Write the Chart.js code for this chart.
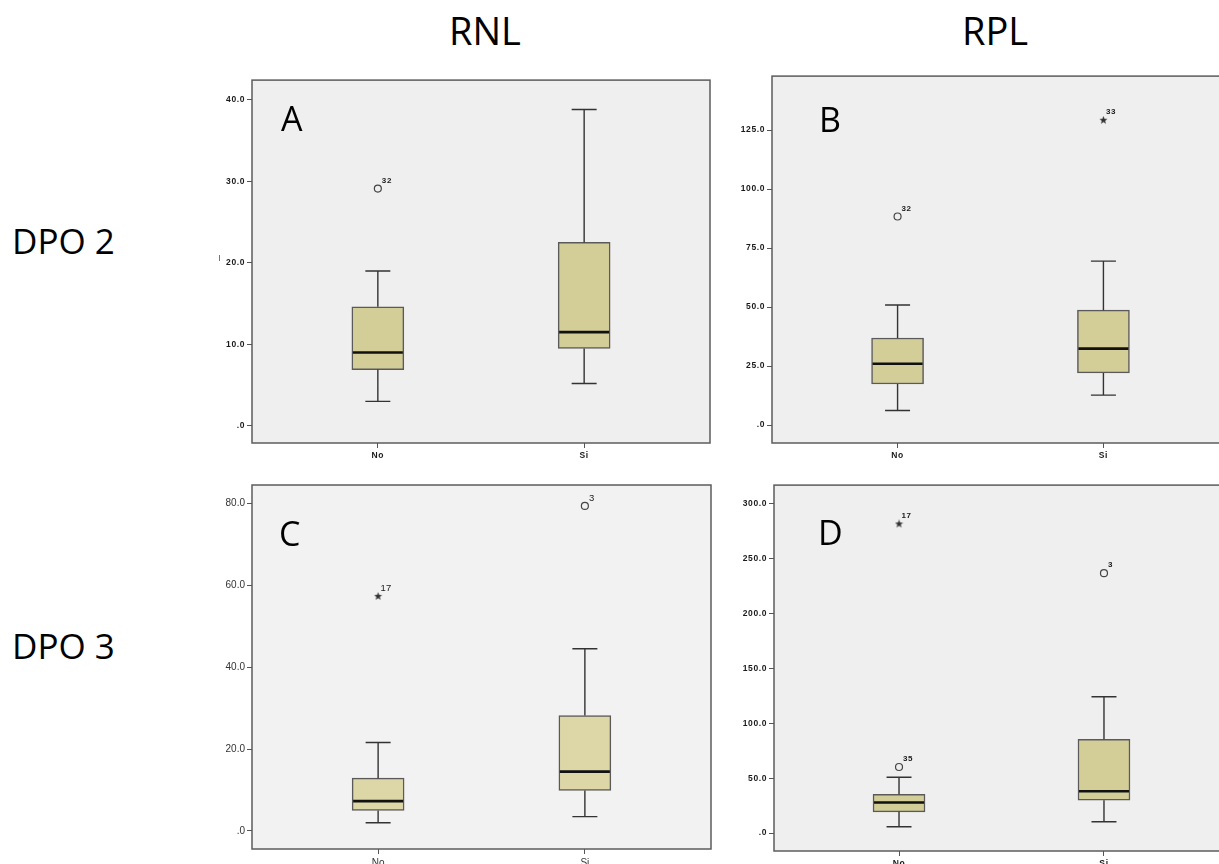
<!DOCTYPE html>
<html>
<head>
<meta charset="utf-8">
<script src="https://cdn.jsdelivr.net/npm/chart.js@4/dist/chart.umd.min.js"></script>
<style>
  html, body { margin: 0; padding: 0; background: #fff; }
  body { position: relative; width: 1219px; height: 864px; overflow: hidden; font-family: "Open Sans", sans-serif; }
  .hdr { position: absolute; line-height: 1; white-space: nowrap; color: #000; }
  .top { font-size: 38px; transform: translateX(-50%); }
  .side { font-size: 35px; }
  .letter { position: absolute; font-size: 34px; line-height: 1; color: #000; }
  canvas { position: absolute; }
  .mark { position: absolute; left: 219px; top: 255px; width: 1px; height: 6px; background: #777; }
</style>
</head>
<body>
<div class="hdr top" style="left:485px;top:11px">RNL</div>
<div class="hdr top" style="left:995px;top:11px">RPL</div>
<div class="hdr side" style="left:12px;top:223px">DPO 2</div>
<div class="hdr side" style="left:12px;top:628px">DPO 3</div>
<div class="mark"></div>

<script>
  // categories on the x axis
  const categories = ['No', 'Si'];

  // A: RNL, DPO 2
  const lowA = [3.0, 5.2];
  const q1A = [6.9, 9.5];
  const medA = [9.0, 11.5];
  const q3A = [14.6, 22.5];
  const highA = [19.0, 38.8];
  const outGroupA = ['No'];
  const outValA = [29.1];
  const outIdA = ['32'];
  const outMarkA = ['circle'];
  const yTicksA = [0, 10, 20, 30, 40];

  // B: RPL, DPO 2
  const lowB = [6.2, 12.7];
  const q1B = [17.4, 22.1];
  const medB = [26.0, 32.4];
  const q3B = [36.9, 48.7];
  const highB = [50.9, 69.5];
  const outGroupB = ['No', 'Si'];
  const outValB = [88.4, 129.2];
  const outIdB = ['32', '33'];
  const outMarkB = ['circle', 'star'];
  const yTicksB = [0, 25, 50, 75, 100, 125];

  // C: RNL, DPO 3
  const lowC = [2.0, 3.5];
  const q1C = [5.0, 9.9];
  const medC = [7.3, 14.5];
  const q3C = [12.9, 28.2];
  const highC = [21.6, 44.5];
  const outGroupC = ['No', 'Si'];
  const outValC = [57.3, 79.4];
  const outIdC = ['17', '3'];
  const outMarkC = ['star', 'circle'];
  const yTicksC = [0, 20, 40, 60, 80];

  // D: RPL, DPO 3
  const lowD = [5.8, 10.3];
  const q1D = [19.4, 30.0];
  const medD = [27.9, 38.1];
  const q3D = [35.4, 85.4];
  const highD = [50.9, 124.2];
  const outGroupD = ['No', 'No', 'Si'];
  const outValD = [60.2, 281.6, 236.8];
  const outIdD = ['35', '17', '3'];
  const outMarkD = ['circle', 'star', 'circle'];
  const yTicksD = [0, 50, 100, 150, 200, 250, 300];

  const X_MIN = 0.39, X_MAX = 2.61;
  const BOX_PX = 52, CAP_PX = 25;
  const AXIS_W = 50, AXIS_H = 22, PAD = 6;

  function fmtTick(v) {
    return v === 0 ? '.0' : v.toFixed(1);
  }

  // small filled star like the SPSS extreme marker
  function makeStar() {
    const c = document.createElement('canvas');
    c.width = 9; c.height = 9;
    const g = c.getContext('2d');
    g.fillStyle = '#333';
    g.beginPath();
    for (let k = 0; k < 10; k++) {
      const r = k % 2 === 0 ? 4.2 : 1.8;
      const a = -Math.PI / 2 + k * Math.PI / 5;
      const px = 4.5 + r * Math.cos(a), py = 4.5 + r * Math.sin(a);
      if (k === 0) g.moveTo(px, py); else g.lineTo(px, py);
    }
    g.closePath();
    g.fill();
    return c;
  }
  const starImg = makeStar();

  const framePlugin = {
    id: 'frame',
    beforeDraw(chart, args, opts) {
      const { ctx, chartArea: a } = chart;
      // spss style spaced digits
      ctx.letterSpacing = opts.spacing;
      ctx.save();
      ctx.fillStyle = opts.bg;
      ctx.fillRect(a.left, a.top, a.right - a.left, a.bottom - a.top);
      ctx.strokeStyle = '#5c5c5c';
      ctx.lineWidth = 1.5;
      ctx.strokeRect(a.left, a.top, a.right - a.left, a.bottom - a.top);
      ctx.restore();
    }
  };

  const outlierLabels = {
    id: 'outlierLabels',
    afterDatasetsDraw(chart, args, opts) {
      const ctx = chart.ctx;
      chart.data.datasets.forEach((ds, di) => {
        if (!ds.outlierIds) return;
        const meta = chart.getDatasetMeta(di);
        ctx.save();
        ctx.font = opts.font;
        ctx.fillStyle = '#1a1a1a';
        ctx.textAlign = 'left';
        ctx.textBaseline = 'middle';
        meta.data.forEach((pt, i) => {
          const dx = ds.outlierMarks[i] === 'star' ? 2.5 : 4;
          ctx.fillText(ds.outlierIds[i], pt.x + dx, pt.y - 8);
        });
        ctx.restore();
      });
    }
  };

  function buildPanel(p) {
    const frameW = p.frame.r - p.frame.l;
    const frameH = p.frame.b - p.frame.t;
    const canvas = document.createElement('canvas');
    canvas.width = frameW + AXIS_W + PAD;
    canvas.height = frameH + AXIS_H + PAD;
    canvas.style.left = (p.frame.l - AXIS_W) + 'px';
    canvas.style.top = (p.frame.t - PAD) + 'px';
    document.body.appendChild(canvas);

    const pxPerUnit = frameW / (X_MAX - X_MIN);
    const capHalf = CAP_PX / 2 / pxPerUnit;
    const medHalf = (BOX_PX / 2 - 1) / pxPerUnit;

    const boxes = [], whiskers = [], medians = [];
    categories.forEach((c, i) => {
      const x = i + 1;
      boxes.push({ x, y: [p.q1[i], p.q3[i]] });
      whiskers.push(
        { x, y: p.q3[i] }, { x, y: p.high[i] }, { x, y: null },
        { x, y: p.q1[i] }, { x, y: p.low[i] }, { x, y: null },
        { x: x - capHalf, y: p.high[i] }, { x: x + capHalf, y: p.high[i] }, { x, y: null },
        { x: x - capHalf, y: p.low[i] }, { x: x + capHalf, y: p.low[i] }, { x, y: null }
      );
      medians.push({ x: x - medHalf, y: p.med[i] }, { x: x + medHalf, y: p.med[i] }, { x, y: null });
    });
    const outliers = p.outGroup.map((g, i) => ({ x: categories.indexOf(g) + 1, y: p.outVal[i] }));

    const tickFont = p.plain
      ? { family: 'Liberation Sans', size: 10, weight: 'normal' }
      : { family: 'Liberation Sans', size: 8.5, weight: 'bold' };
    const tickColor = p.plain ? '#333' : '#1a1a1a';

    new Chart(canvas, {
      type: 'bar',
      data: {
        datasets: [
          {
            type: 'bar', data: boxes, order: 3,
            backgroundColor: p.fill, borderColor: '#5a5a5a', borderWidth: 1.5,
            borderSkipped: false, barThickness: BOX_PX
          },
          {
            type: 'line', data: whiskers, order: 2,
            borderColor: '#333', borderWidth: 1.4, pointRadius: 0, spanGaps: false, tension: 0
          },
          {
            type: 'line', data: medians, order: 1,
            borderColor: '#111', borderWidth: 2.6, pointRadius: 0, spanGaps: false, tension: 0
          },
          {
            type: 'line', data: outliers, order: 0, showLine: false,
            outlierIds: p.outId, outlierMarks: p.outMark,
            pointStyle: p.outMark.map(m => m === 'star' ? starImg : 'circle'),
            pointRadius: 3.5, pointBorderWidth: 1.2,
            pointBorderColor: '#444', pointBackgroundColor: 'rgba(0,0,0,0)'
          }
        ]
      },
      options: {
        responsive: false,
        devicePixelRatio: 1,
        animation: false,
        events: [],
        layout: { padding: { left: 0, top: PAD, right: PAD, bottom: 0 } },
        plugins: {
          legend: { display: false },
          tooltip: { enabled: false },
          frame: { bg: p.bg, spacing: p.plain ? '0px' : '0.6px' },
          outlierLabels: { font: p.plain ? '9.5px "Liberation Sans"' : 'bold 8px "Liberation Sans"' }
        },
        scales: {
          x: {
            type: 'linear', min: X_MIN, max: X_MAX, offset: false,
            afterFit(scale) { scale.height = AXIS_H; },
            afterBuildTicks(scale) { scale.ticks = categories.map((c, i) => ({ value: i + 1 })); },
            grid: { offset: false, drawOnChartArea: false, drawTicks: true, tickLength: 5, color: '#555' },
            border: { display: false },
            ticks: { font: tickFont, color: tickColor, padding: 3, maxRotation: 0,
                     callback: (v, i) => categories[i] }
          },
          y: {
            type: 'linear', min: p.yMin, max: p.yMax, beginAtZero: false,
            afterFit(scale) { scale.width = AXIS_W; },
            afterBuildTicks(scale) { scale.ticks = p.yTicks.map(v => ({ value: v })); },
            grid: { drawOnChartArea: false, drawTicks: true, tickLength: 5, color: '#555' },
            border: { display: false },
            ticks: { font: tickFont, color: tickColor, padding: 2, callback: v => fmtTick(v) }
          }
        }
      },
      plugins: [framePlugin, outlierLabels]
    });

    const letter = document.createElement('div');
    letter.className = 'letter';
    letter.textContent = p.letter;
    letter.style.left = p.letterPos[0] + 'px';
    letter.style.top = p.letterPos[1] + 'px';
    document.body.appendChild(letter);
  }

  buildPanel({
    letter: 'A', letterPos: [281, 101], frame: { l: 252, t: 79, r: 710, b: 443 },
    yMin: -2.1, yMax: 42.4, yTicks: yTicksA, bg: '#efefef', fill: '#d3ce97',
    low: lowA, q1: q1A, med: medA, q3: q3A, high: highA,
    outGroup: outGroupA, outVal: outValA, outId: outIdA, outMark: outMarkA
  });
  buildPanel({
    letter: 'B', letterPos: [819, 102], frame: { l: 772, t: 75, r: 1229, b: 443 },
    yMin: -7.6, yMax: 147.9, yTicks: yTicksB, bg: '#efefef', fill: '#d3ce97',
    low: lowB, q1: q1B, med: medB, q3: q3B, high: highB,
    outGroup: outGroupB, outVal: outValB, outId: outIdB, outMark: outMarkB
  });
  buildPanel({
    letter: 'C', letterPos: [279, 516], frame: { l: 252, t: 483, r: 711, b: 849 }, plain: true,
    yMin: -4.4, yMax: 84.5, yTicks: yTicksC, bg: '#f2f2f2', fill: '#ddd7a8',
    low: lowC, q1: q1C, med: medC, q3: q3C, high: highC,
    outGroup: outGroupC, outVal: outValC, outId: outIdC, outMark: outMarkC
  });
  buildPanel({
    letter: 'D', letterPos: [818, 515], frame: { l: 774, t: 484, r: 1229, b: 851 },
    yMin: -16.3, yMax: 317.0, yTicks: yTicksD, bg: '#efefef', fill: '#d3ce97',
    low: lowD, q1: q1D, med: medD, q3: q3D, high: highD,
    outGroup: outGroupD, outVal: outValD, outId: outIdD, outMark: outMarkD
  });
</script>
</body>
</html>
